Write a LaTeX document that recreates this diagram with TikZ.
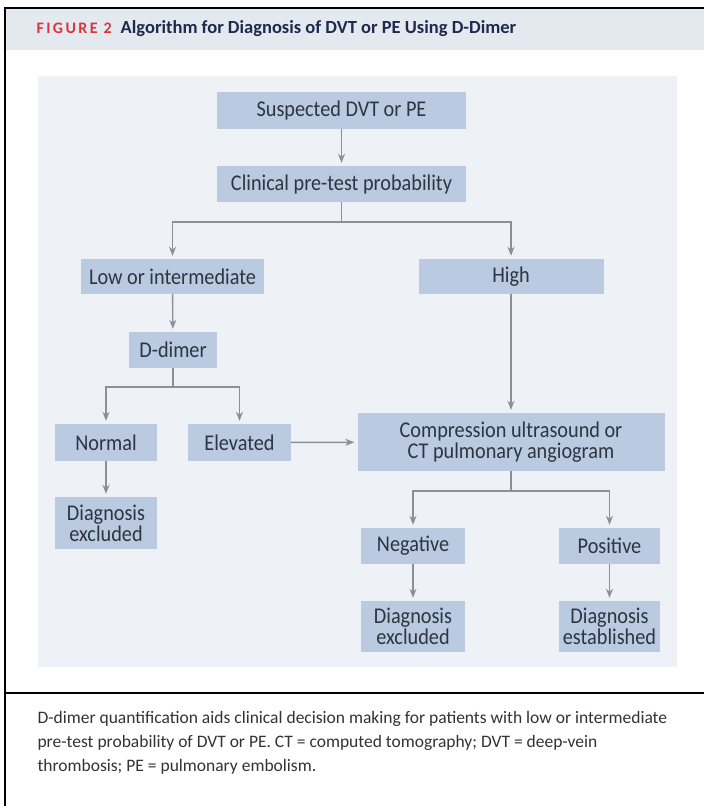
\documentclass[tikz,border=0pt]{standalone}
\usepackage{fontspec}
\setmainfont{Carlito}
\newfontfamily\narrowfont{Carlito}[FakeStretch=0.9]
\usetikzlibrary{positioning,arrows.meta,calc}

\definecolor{boxblue}{HTML}{B9CAE1}
\definecolor{boxtext}{HTML}{2E3440}
\definecolor{linegrey}{HTML}{8A8F99}
\definecolor{panelgrey}{HTML}{EEF1F6}
\definecolor{headgrey}{HTML}{E4E8EF}
\definecolor{figred}{HTML}{D9353D}
\definecolor{titlenavy}{HTML}{1E2A4C}

\begin{document}
\begin{tikzpicture}[
  x=1pt, y=-1pt,
  >=Stealth,
  font=\narrowfont\fontsize{22.5}{21}\selectfont,
  box/.style={fill=boxblue, text=boxtext, inner sep=0pt, align=center},
  rel/.style={-{Stealth[length=9pt,width=7pt]}, line width=1.4pt, draw=linegrey, shorten >=3pt},
  link/.style={line width=1.4pt, draw=linegrey}
]
\useasboundingbox (0,0) rectangle (704,806);

% Frame, header band and panel
\fill[white] (0,0) rectangle (704,806);
\fill[headgrey] (6,9) rectangle (704,50);
\fill[panelgrey] (38,76) rectangle (677,667);
\draw[line width=2pt] (5,806) -- (5,8) -- (704,8);
\draw[line width=2pt] (5,693) -- (704,693);

% Title
\node[anchor=west, font=\normalfont\fontsize{18.5}{20}\selectfont\bfseries] (title) at (33,29)
  {\textcolor{figred}{\fontsize{16}{18}\selectfont\addfontfeatures{LetterSpace=15}FIGURE 2}\hspace{9pt}\textcolor{titlenavy}{Algorithm for Diagnosis of DVT or PE Using D-Dimer}};

% Row 1-2 (suspicion and pre-test probability)
\node[box, minimum width=249pt, minimum height=37pt] (susp) at (341.5,110.5) {Suspected DVT or PE};
\node[box, minimum width=249pt, minimum height=36pt] (clin) at (341.5,184) {Clinical pre-test probability};

% Row 3 (probability classes)
\node[box, minimum width=183pt, minimum height=35pt] (low) at (172.5,276.5) {Low or intermediate};
\node[box, minimum width=185pt, minimum height=35pt] (high) at (511,276.5) {High};

% Row 4 (D-dimer test)
\node[box, minimum width=88pt, minimum height=36pt] (ddim) at (173,350) {D-dimer};

% Row 5 (test results and imaging)
\node[box, minimum width=102pt, minimum height=37pt] (normal) at (106,442.5) {Normal};
\node[box, minimum width=103pt, minimum height=37pt] (elev) at (239.5,442.5) {Elevated};
\node[box, minimum width=307pt, minimum height=58pt] (imaging) at (511,442) {Compression ultrasound or\\CT pulmonary angiogram};
\node[box, minimum width=102pt, minimum height=52pt] (exclA) at (106,523) {Diagnosis\\excluded};

% Row 6-7 (imaging outcomes)
\node[box, minimum width=104pt, minimum height=36pt] (neg) at (413,546) {Negative};
\node[box, minimum width=101pt, minimum height=36pt] (pos) at (609.5,546) {Positive};
\node[box, minimum width=104pt, minimum height=51pt] (exclB) at (413,626.5) {Diagnosis\\excluded};
\node[box, minimum width=101pt, minimum height=51pt] (estab) at (609.5,626.5) {Diagnosis\\established};

% Branch points
\coordinate (jclin) at (341.5,222);
\coordinate (jddim) at (173,387);
\coordinate (jimg) at (511,491);

% Connectors
\draw[rel] (susp) -- (clin);
\draw[link] (clin) -- (jclin);
\draw[rel] (jclin) -| (low);
\draw[rel] (jclin) -| (high);
\draw[rel] (low) -- (ddim);
\draw[link] (ddim) -- (jddim);
\draw[rel] (jddim) -| (normal);
\draw[rel] (jddim) -| (elev);
\draw[rel] (normal) -- (exclA);
\draw[rel] (elev) -- (imaging);
\draw[rel] (high) -- (imaging);
\draw[link] (imaging) -- (jimg);
\draw[rel] (jimg) -| (neg);
\draw[rel] (jimg) -| (pos);
\draw[rel] (neg) -- (exclB);
\draw[rel] (pos) -- (estab);

% Caption
\node[anchor=north west, align=left, text=black!80, font=\normalfont\fontsize{17.5}{24}\selectfont] (caption) at (34,708)
  {D-dimer quantification aids clinical decision making for patients with low or intermediate\\
   pre-test probability of DVT or PE. CT = computed tomography; DVT = deep-vein\\
   thrombosis; PE = pulmonary embolism.};

\end{tikzpicture}
\end{document}
